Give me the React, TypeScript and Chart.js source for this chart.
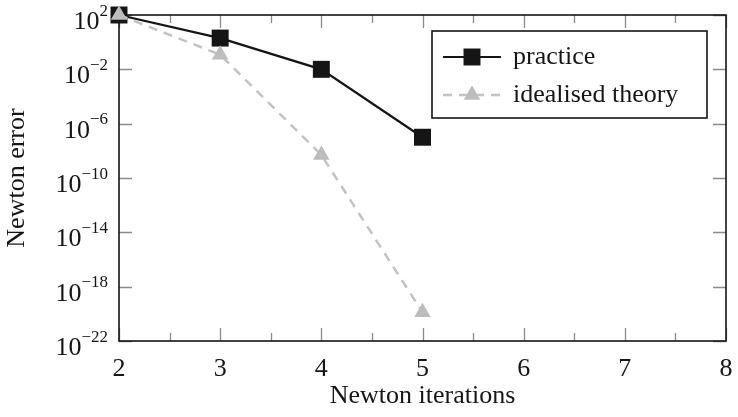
import { useEffect, useRef } from "react";
import { Chart, registerables } from "chart.js";

Chart.register(...registerables);

const iterations = [2, 3, 4, 5];
const practiceErrors = [1e2, 2, 1e-2, 1e-7];
const theoryErrors = [1e2, 1.2e-1, 5e-9, 1.3e-20];
const yTickExponents = [2, -2, -6, -10, -14, -18, -22];
const xTickValues = [2, 3, 4, 5, 6, 7, 8];
const seriesNames = ["practice", "idealised theory"];
const xTitle = "Newton iterations";
const yTitle = "Newton error";

const FONT = '"Liberation Serif", "Times New Roman", Times, serif';
const INK = "#151515";
const TICK = "#8a8a8a";
const THEORY = "#c3c3c3";
const BASE = 26;
const SUP = 17;

const toMinus = (n: number) => String(n).replace("-", "\u2212");

const framePlugin = {
  id: "frame",
  beforeDatasetsDraw(chart: any) {
    const { ctx, chartArea: a, scales } = chart;
    const xs = scales.x;
    const ys = scales.y;
    ctx.save();
    ctx.strokeStyle = TICK;
    ctx.lineWidth = 1.3;
    ctx.beginPath();
    for (let v = xTickValues[0]; v <= xTickValues[xTickValues.length - 1] + 1e-9; v += 0.5) {
      const px = Math.round(xs.getPixelForValue(v)) + 0.5;
      const len = Math.abs(v - Math.round(v)) < 1e-9 ? 13 : 8;
      ctx.moveTo(px, a.bottom);
      ctx.lineTo(px, a.bottom - len);
      ctx.moveTo(px, a.top);
      ctx.lineTo(px, a.top + len);
    }
    yTickExponents.forEach((e) => {
      const py = Math.round(ys.getPixelForValue(Math.pow(10, e))) + 0.5;
      ctx.moveTo(a.left, py);
      ctx.lineTo(a.left + 13, py);
      ctx.moveTo(a.right, py);
      ctx.lineTo(a.right - 13, py);
    });
    ctx.stroke();
    ctx.strokeStyle = INK;
    ctx.lineWidth = 1.6;
    ctx.strokeRect(a.left, a.top, a.right - a.left, a.bottom - a.top);
    ctx.restore();
  },
  afterDatasetsDraw(chart: any) {
    const { ctx, chartArea: a, scales } = chart;
    const ys = scales.y;
    ctx.save();
    ctx.fillStyle = INK;
    yTickExponents.forEach((e) => {
      const py = ys.getPixelForValue(Math.pow(10, e));
      const exp = toMinus(e);
      ctx.font = `${SUP}px ${FONT}`;
      const ew = ctx.measureText(exp).width;
      ctx.font = `${BASE}px ${FONT}`;
      const bw = ctx.measureText("10").width;
      const right = a.left - 11;
      ctx.textAlign = "left";
      ctx.textBaseline = "alphabetic";
      ctx.fillText("10", right - ew - bw, py + 14);
      ctx.font = `${SUP}px ${FONT}`;
      ctx.fillText(exp, right - ew, py + 0.5);
    });
    ctx.font = `${BASE}px ${FONT}`;
    ctx.textAlign = "center";
    ctx.textBaseline = "middle";
    ctx.fillText(xTitle, (a.left + a.right) / 2, 396);
    ctx.save();
    ctx.translate(17, (a.top + a.bottom) / 2);
    ctx.rotate(-Math.PI / 2);
    ctx.fillText(yTitle, 0, 0);
    ctx.restore();

    const lx = 432, ly = 31, lw = 275, lh = 87;
    ctx.fillStyle = "#ffffff";
    ctx.fillRect(lx, ly, lw, lh);
    ctx.strokeStyle = INK;
    ctx.lineWidth = 1.6;
    ctx.strokeRect(lx, ly, lw, lh);
    const rows = [57, 95];
    chart.data.datasets.forEach((ds: any, i: number) => {
      const y = rows[i];
      ctx.save();
      ctx.strokeStyle = ds.borderColor;
      ctx.lineWidth = ds.borderWidth;
      ctx.setLineDash(ds.borderDash || []);
      ctx.beginPath();
      ctx.moveTo(443, y);
      ctx.lineTo(501, y);
      ctx.stroke();
      ctx.restore();
      ctx.save();
      ctx.fillStyle = ds.pointBackgroundColor;
      const r = ds.pointRadius;
      ctx.beginPath();
      if (ds.pointStyle === "rect") {
        const s = r * Math.SQRT1_2;
        ctx.rect(472 - s, y - s, 2 * s, 2 * s);
      } else {
        ctx.moveTo(472, y - r);
        ctx.lineTo(472 + r * 0.866, y + r * 0.5);
        ctx.lineTo(472 - r * 0.866, y + r * 0.5);
        ctx.closePath();
      }
      ctx.fill();
      ctx.restore();
      ctx.fillStyle = INK;
      ctx.font = `${BASE}px ${FONT}`;
      ctx.textAlign = "left";
      ctx.textBaseline = "middle";
      ctx.fillText(ds.label, 513, y);
    });
    ctx.restore();
  },
};

export default function App() {
  const ref = useRef<HTMLCanvasElement | null>(null);
  useEffect(() => {
    if (!ref.current) return;
    const chart = new Chart(ref.current, {
      type: "line",
      data: {
        datasets: [
          {
            label: seriesNames[0],
            data: iterations.map((x, i) => ({ x, y: practiceErrors[i] })),
            borderColor: INK,
            borderWidth: 2.2,
            pointStyle: "rect",
            pointRadius: 12,
            pointBackgroundColor: INK,
            pointBorderColor: INK,
            pointBorderWidth: 0,
            tension: 0,
            clip: false,
            order: 1,
          } as any,
          {
            label: seriesNames[1],
            data: iterations.map((x, i) => ({ x, y: theoryErrors[i] })),
            borderColor: THEORY,
            borderWidth: 2.5,
            borderDash: [9, 7],
            pointStyle: "triangle",
            pointRadius: 9.5,
            pointBackgroundColor: "#bdbdbd",
            pointBorderColor: "#bdbdbd",
            pointBorderWidth: 0,
            tension: 0,
            clip: false,
            order: 0,
          } as any,
        ],
      },
      options: {
        animation: false,
        responsive: false,
        maintainAspectRatio: false,
        layout: { padding: { top: 15, right: 6, left: 0, bottom: 0 } },
        plugins: { legend: { display: false }, tooltip: { enabled: false } },
        scales: {
          x: {
            type: "linear",
            min: xTickValues[0],
            max: xTickValues[xTickValues.length - 1],
            grid: { display: false },
            border: { display: false },
            ticks: {
              stepSize: 1,
              maxRotation: 0,
              padding: 5,
              color: INK,
              font: { family: FONT, size: BASE },
              callback: (v: any) => (xTickValues.includes(Number(v)) ? String(v) : ""),
            },
            afterFit: (s: any) => {
              s.height = 76;
            },
          },
          y: {
            type: "logarithmic",
            min: Math.pow(10, yTickExponents[yTickExponents.length - 1]),
            max: Math.pow(10, yTickExponents[0]),
            grid: { display: false },
            border: { display: false },
            ticks: { display: false },
            afterFit: (s: any) => {
              s.width = 119;
            },
          },
        },
      } as any,
      plugins: [framePlugin],
    });
    return () => chart.destroy();
  }, []);
  return (
    <div style={{ position: "absolute", left: 0, top: 0, width: 738, height: 417, background: "#fff" }}>
      <canvas ref={ref} width={738} height={417} />
    </div>
  );
}
